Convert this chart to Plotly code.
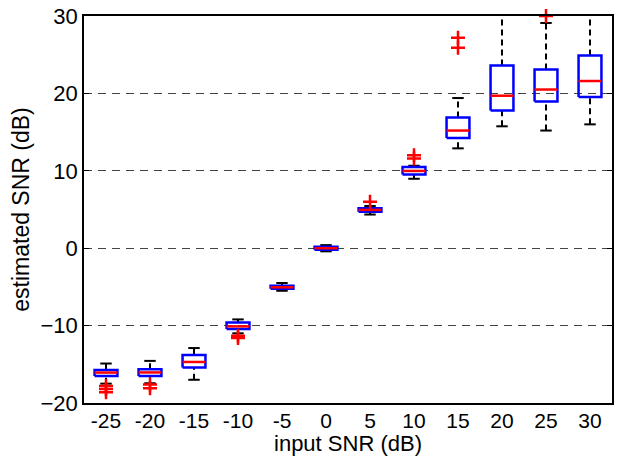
import plotly.graph_objects as go

# data
snr_in = [-25, -20, -15, -10, -5, 0, 5, 10, 15, 20, 25, 30]
lower_whisker = [-17.5, -17.45, -17.0, -11.0, -5.5, -0.4, 4.35, 8.97, 12.9, 15.75, 15.2, 16.0]
q1 = [-16.5, -16.5, -15.4, -10.45, -5.25, -0.2, 4.7, 9.53, 14.25, 17.8, 18.95, 19.55]
median = [-16.07, -16.05, -14.7, -10.1, -5.05, 0.0, 4.95, 9.98, 15.2, 19.7, 20.5, 21.6]
q3 = [-15.73, -15.64, -13.8, -9.6, -4.85, 0.2, 5.15, 10.48, 16.9, 23.6, 23.1, 24.9]
upper_whisker = [-14.9, -14.56, -12.9, -9.2, -4.5, 0.4, 5.45, 10.65, 19.4, 34.0, 29.1, 34.0]
outlier_x = [-25, -25, -25, -20, -20, -10, -10, 5, 10, 10, 15, 15, 25]
outlier_y = [-17.8, -18.2, -18.6, -17.6, -18.1, -11.3, -11.6, 6.0, 11.6, 12.0, 25.9, 27.2, 30.0]
y_ticks = [-20, -10, 0, 10, 20, 30]

BOX_HALF = 1.3
CAP_HALF = 0.65

wx, wy, cx, cy, bx, by, mx, my = [], [], [], [], [], [], [], []
for x, lw, a, m, b, uw in zip(snr_in, lower_whisker, q1, median, q3, upper_whisker):
    wx += [x, x, None, x, x, None]
    wy += [lw, a, None, b, uw, None]
    cx += [x - CAP_HALF, x + CAP_HALF, None, x - CAP_HALF, x + CAP_HALF, None]
    cy += [lw, lw, None, uw, uw, None]
    bx += [x - BOX_HALF, x + BOX_HALF, x + BOX_HALF, x - BOX_HALF, x - BOX_HALF, None]
    by += [a, a, b, b, a, None]
    mx += [x - BOX_HALF, x + BOX_HALF, None]
    my += [m, m, None]

fig = go.Figure()
fig.add_trace(go.Scatter(x=wx, y=wy, mode="lines", line=dict(color="black", width=2, dash="6px,4px"), hoverinfo="skip"))
fig.add_trace(go.Scatter(x=cx, y=cy, mode="lines", line=dict(color="black", width=2), hoverinfo="skip"))
fig.add_trace(go.Scatter(x=bx, y=by, mode="lines", line=dict(color="#0000ff", width=2.5), hoverinfo="skip"))
fig.add_trace(go.Scatter(x=mx, y=my, mode="lines", line=dict(color="#ff0000", width=2.5), hoverinfo="skip"))
fig.add_trace(go.Scatter(x=outlier_x, y=outlier_y, mode="markers", cliponaxis=False,
                         marker=dict(symbol="cross-thin", size=10, line=dict(color="#ff0000", width=2.5)),
                         hoverinfo="skip"))

font = "Liberation Sans, Arial, sans-serif"
fig.update_layout(
    width=618, height=456,
    margin=dict(l=84, r=6, t=16, b=53),
    paper_bgcolor="white", plot_bgcolor="white",
    showlegend=False,
    font=dict(family=font, size=21, color="black"),
    xaxis=dict(
        range=[-27.5, 32.5], tickvals=snr_in, ticktext=[str(v) for v in snr_in],
        ticks="", showgrid=False, zeroline=False, automargin=False,
        showline=True, linecolor="black", linewidth=1.5, mirror=True,
        ticklabelstandoff=-2,
        title=dict(text="input SNR (dB)", font=dict(size=22), standoff=1),
        tickfont=dict(size=21),
    ),
    yaxis=dict(
        range=[-20, 30], tickvals=y_ticks, ticks="inside", ticklen=5, tickwidth=1,
        tickcolor="black", automargin=False,
        showgrid=True, gridcolor="#444", griddash="8px,6px", gridwidth=1,
        zeroline=False,
        showline=True, linecolor="black", linewidth=1.5, mirror="ticks",
        title=dict(text="estimated SNR (dB)", font=dict(size=23), standoff=4),
        tickfont=dict(size=22),
    ),
)
fig.write_html("out.html")
